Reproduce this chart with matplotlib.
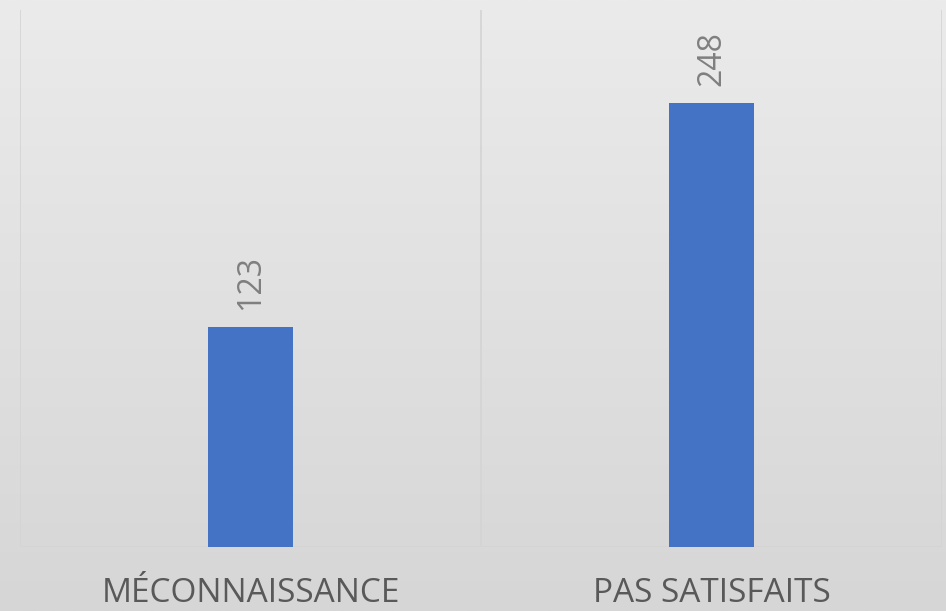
import matplotlib
matplotlib.use("Agg")
import matplotlib.pyplot as plt
import matplotlib.transforms as mtrans
import numpy as np

categories = ["MÉCONNAISSANCE", "PAS SATISFAITS"]
values = [123, 248]
ymax = 300

W, H = 946, 611
fig = plt.figure(figsize=(W / 100, H / 100), dpi=100)

# gradient background
bg = fig.add_axes([0, 0, 1, 1], zorder=0)
grad = np.linspace(0, 1, 256).reshape(-1, 1)
top = np.array([0xeb, 0xeb, 0xeb]) / 255
bot = np.array([0xd6, 0xd6, 0xd6]) / 255
img = top + (bot - top) * grad[:, :, None]
bg.imshow(img, aspect="auto", extent=[0, 1, 0, 1], origin="upper")
bg.set_axis_off()

ax = fig.add_axes([20 / W, (H - 547) / H, (942 - 20) / W, (547 - 10) / H], zorder=1)
ax.patch.set_alpha(0)
x = np.arange(len(categories))
bars = ax.bar(x, values, width=0.184, color="#4472C4", zorder=3)
ax.set_xlim(-0.5, len(categories) - 0.5)
ax.set_ylim(0, ymax)

for b in [-0.5, 0.5, 1.5]:
    ax.axvline(b, color="#d4d4d4", lw=1.2, zorder=1)
ax.axhline(0, color="#d4d4d4", lw=1.2, zorder=1)

for s in ax.spines.values():
    s.set_visible(False)
ax.set_yticks([])
ax.set_xticks(x)
ax.set_xticklabels([""] * len(categories))
ax.tick_params(axis="x", length=0)

lab_trans = mtrans.blended_transform_factory(ax.transData, fig.transFigure)
for xi, c in zip(x, categories):
    ax.text(xi, 1.5 / H, c, transform=lab_trans, ha="center", va="bottom",
            fontsize=24, color="#595959", family="Open Sans", clip_on=False)

for xi, v in zip(x, values):
    ax.annotate(str(v), (xi, v), xytext=(0, 12), textcoords="offset points",
                rotation=90, ha="center", va="bottom", fontsize=23,
                color="#7f7f7f", family="Open Sans")

fig.savefig("out.png", dpi=100)
